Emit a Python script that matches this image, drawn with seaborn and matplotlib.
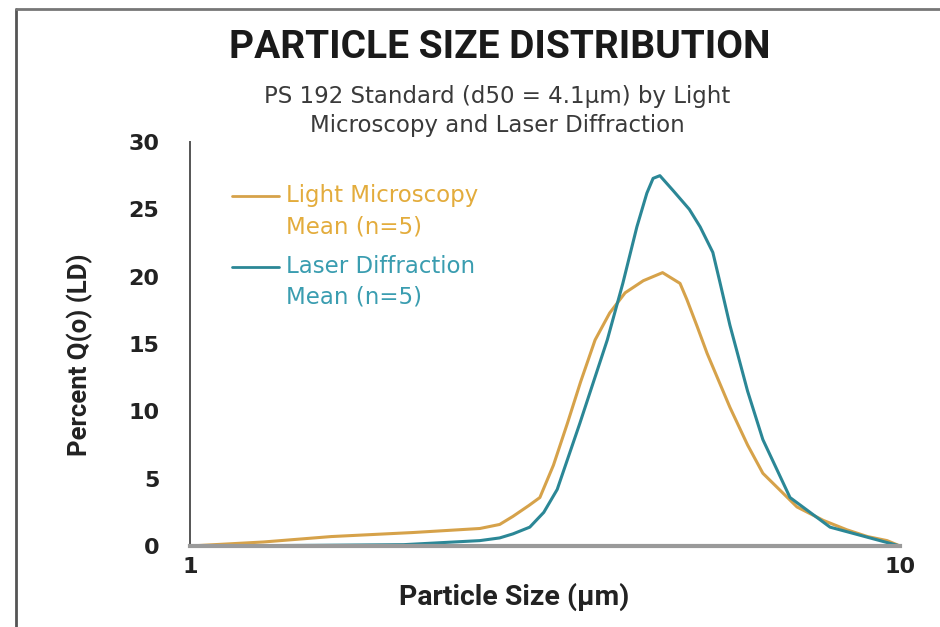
import numpy as np
import pandas as pd
import matplotlib
matplotlib.use("Agg")
import matplotlib.pyplot as plt
import seaborn as sns
from matplotlib.legend_handler import HandlerLine2D
from matplotlib.lines import Line2D

# ---- data ----
lm_size = [1.0, 1.27, 1.58, 2.06, 2.56, 2.73, 2.85, 3.0, 3.11, 3.25, 3.40, 3.55, 3.72,
           3.90, 4.10, 4.35, 4.63, 4.90, 5.01, 5.18, 5.35, 5.76, 6.10, 6.41, 7.16, 7.8,
           8.42, 9.0, 9.59, 10.0]
lm_pct = [0.0, 0.3, 0.7, 1.0, 1.3, 1.6, 2.2, 3.0, 3.6, 6.0, 9.1, 12.2, 15.3,
          17.3, 18.8, 19.7, 20.3, 19.5, 18.3, 16.3, 14.3, 10.3, 7.5, 5.4, 2.9, 1.9,
          1.2, 0.7, 0.4, 0.0]
ld_size = [1.0, 1.5, 2.0, 2.56, 2.73, 2.85, 3.01, 3.15, 3.29, 3.54, 3.87, 4.07, 4.26,
           4.40, 4.49, 4.59, 4.79, 5.05, 5.23, 5.45, 5.57, 5.76, 5.89, 6.10, 6.41, 7.0,
           7.97, 9.37, 10.0]
ld_pct = [0.0, 0.05, 0.1, 0.4, 0.6, 0.9, 1.4, 2.5, 4.2, 9.1, 15.3, 19.5, 23.7,
          26.2, 27.3, 27.5, 26.4, 25.0, 23.7, 21.8, 19.7, 16.4, 14.5, 11.5, 7.9, 3.6,
          1.4, 0.4, 0.0]
series_names = ["Light Microscopy\nMean (n=5)", "Laser Diffraction\nMean (n=5)"]
y_ticks = [0, 5, 10, 15, 20, 25, 30]
x_ticks = [1, 10]
x_tick_labels = ["1", "10"]

df = pd.concat([
    pd.DataFrame({"size": lm_size, "pct": lm_pct, "series": series_names[0]}),
    pd.DataFrame({"size": ld_size, "pct": ld_pct, "series": series_names[1]}),
])

line_colors = {series_names[0]: "#D6A24A", series_names[1]: "#2B8796"}
text_colors = ["#E3AC3C", "#3A9DB0"]

sns.set_theme(style="white")
plt.rcParams['font.family'] = ['DejaVu Sans']

fig = plt.figure(figsize=(9.4, 6.27), dpi=100)
ax = fig.add_axes([190/940, 1-546/627, 710/940, 404/627])

sns.lineplot(data=df, x="size", y="pct", hue="series", palette=line_colors,
             linewidth=2.2, ax=ax, sort=False, estimator=None)

ax.set_xscale("log")
ax.set_xlim(1, 10)
ax.set_ylim(0, 30)
ax.set_yticks(y_ticks)
ax.set_xticks(x_ticks)
ax.set_xticklabels(x_tick_labels)
ax.xaxis.set_minor_locator(matplotlib.ticker.NullLocator())

for s in ["top", "right"]:
    ax.spines[s].set_visible(False)
ax.spines["left"].set_color("#555555")
ax.spines["left"].set_linewidth(1.4)
ax.spines["bottom"].set_color("#9a9a9a")
ax.spines["bottom"].set_linewidth(3)

ax.tick_params(axis="y", direction="out", length=14, width=1.3, color="#555555",
               labelsize=16, pad=8)
ax.tick_params(axis="x", direction="inout", length=12, width=1.3, color="#555555",
               labelsize=16, pad=2)
for lab in ax.get_yticklabels() + ax.get_xticklabels():
    lab.set_fontweight("bold")
    lab.set_color("#222222")

ax.set_xlabel("Particle Size (μm)", fontsize=20.5, fontweight="bold", color="#222222",
              family=["Roboto", "DejaVu Sans"])
ax.xaxis.set_label_coords((514-190)/710, -(583-546)/404, transform=ax.transAxes)
ax.set_ylabel("Percent Q(o) (LD)", fontsize=18.5, fontweight="bold", color="#222222",
              family=["Roboto", "DejaVu Sans"])
ax.yaxis.set_label_coords(-(190-93)/710, (546-355)/404)


class UpperHandler(HandlerLine2D):
    def create_artists(self, legend, orig_handle, xdescent, ydescent, width, height,
                       fontsize, trans):
        arts = super().create_artists(legend, orig_handle, xdescent, ydescent, width,
                                      height, fontsize, trans)
        for a in arts:
            if isinstance(a, Line2D):
                y = np.asarray(a.get_ydata(), dtype=float)
                a.set_ydata(y + 0.68 * fontsize)
        return arts


handles, labels = ax.get_legend_handles_labels()
for h in handles:
    h.set_linewidth(2.0)
leg = ax.legend(handles, labels, loc="upper left",
                bbox_to_anchor=((232-190)/710, (546-184)/404),
                frameon=False, borderaxespad=0, borderpad=0,
                handlelength=2.05, handletextpad=0.32, labelspacing=0.72,
                prop={"family": ["DejaVu Sans"], "size": 16.5},
                handler_map={Line2D: UpperHandler()})
for t, c in zip(leg.get_texts(), text_colors):
    t.set_color(c)
    t.set_linespacing(1.45)

fig.text(500/940, 1-48/627, "PARTICLE SIZE DISTRIBUTION", ha="center", va="center",
         fontsize=28, fontweight="bold", color="#1a1a1a",
         family=["Roboto", "DejaVu Sans"])
fig.text(497/940, 1-111/627,
         "PS 192 Standard (d50 = 4.1μm) by Light\nMicroscopy and Laser Diffraction",
         ha="center", va="center", fontsize=16.5, color="#3a3a3a", linespacing=1.35,
         family=["DejaVu Sans"])

# outer frame
fig.add_artist(Line2D([16/940, 16/940], [0, 1-9/627], transform=fig.transFigure,
                      color="#555555", linewidth=2))
fig.add_artist(Line2D([16/940, 1], [1-9/627, 1-9/627], transform=fig.transFigure,
                      color="#777777", linewidth=2))

fig.savefig("out.png", dpi=100)
